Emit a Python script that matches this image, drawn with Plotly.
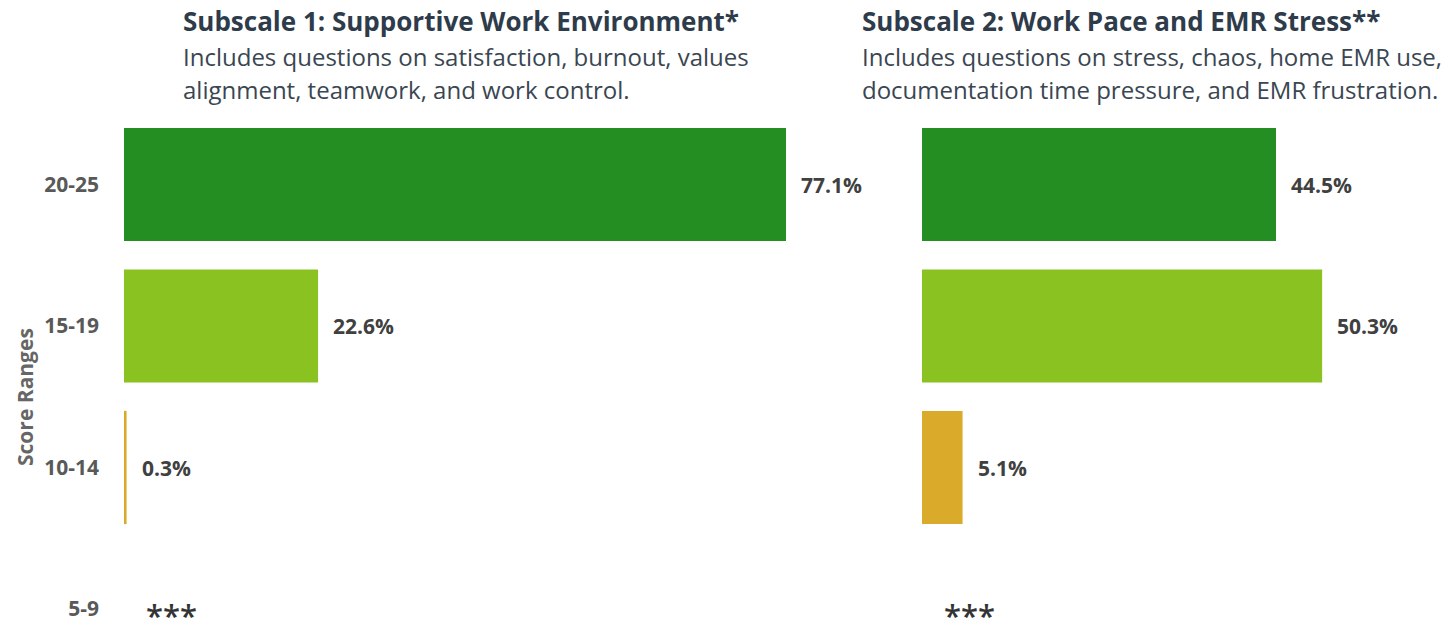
import plotly.graph_objects as go

categories = ["20-25", "15-19", "10-14", "5-9"]
subscale1_values = [77.1, 22.6, 0.3]
subscale2_values = [44.5, 50.3, 5.1]
bar_colors = ["#258E23", "#89C221", "#DAAA2A"]
missing_label = "***"

title1 = "Subscale 1: Supportive Work Environment*"
sub1_lines = ["Includes questions on satisfaction, burnout, values",
              "alignment, teamwork, and work control."]
title2 = "Subscale 2: Work Pace and EMR Stress**"
sub2_lines = ["Includes questions on stress, chaos, home EMR use,",
              "documentation time pressure, and EMR frustration."]
y_title = "Score Ranges"

FONT = "Open Sans"
OFF = 8  # page body margin
W, H = 1454, 627
L, R, T, B = 124 - OFF, 0, 114 - OFF, 0
pw = W - L - R
ph = H - T - B

def px_x(p):
    return (p - OFF - L) / pw

def px_y(p):
    return (H - B - (p - OFF)) / ph

fig = go.Figure()
fig.add_trace(go.Bar(
    x=subscale1_values, y=categories[:3], orientation="h",
    marker=dict(color=bar_colors, line=dict(width=0)), width=0.8,
    xaxis="x", yaxis="y", showlegend=False, hoverinfo="x+y"))
fig.add_trace(go.Bar(
    x=subscale2_values, y=categories[:3], orientation="h",
    marker=dict(color=bar_colors, line=dict(width=0)), width=0.8,
    xaxis="x2", yaxis="y2", showlegend=False, hoverinfo="x+y"))

annotations = []
for ax, vals in (("x", subscale1_values), ("x2", subscale2_values)):
    yref = "y" if ax == "x" else "y2"
    for c, v in zip(categories, vals):
        annotations.append(dict(
            x=v, y=c, xref=ax, yref=yref, text=f"<b>{v:.1f}%</b>",
            showarrow=False, xanchor="left", yanchor="middle", xshift=13,
            font=dict(family=FONT, size=21, color="#404040")))
    annotations.append(dict(
        x=0, y=categories[3], xref=ax, yref=yref, text=missing_label,
        showarrow=False, xanchor="left", yanchor="middle", xshift=20, yshift=-6,
        font=dict(family=FONT, size=31, weight=600, color="#333333")))

for x0, t, subs in ((181, title1, sub1_lines), (860, title2, sub2_lines)):
    annotations.append(dict(
        x=px_x(x0), y=px_y(21), xref="paper", yref="paper", text=f"<b>{t}</b>",
        showarrow=False, xanchor="left", yanchor="middle",
        font=dict(family=FONT, size=26, color="#2E3B4A")))
    for i, s in enumerate(subs):
        annotations.append(dict(
            x=px_x(x0), y=px_y(56 + 33 * i), xref="paper", yref="paper", text=s,
            showarrow=False, xanchor="left", yanchor="middle",
            font=dict(family=FONT, size=24, color="#3A4652")))

annotations.append(dict(
    x=px_x(25), y=px_y(397), xref="paper", yref="paper", text=f"<b>{y_title}</b>",
    textangle=-90, showarrow=False, xanchor="center", yanchor="middle",
    font=dict(family=FONT, size=21, color="#666666")))

left_end = 880
right_start = 922
scale1 = (786 - 124) / 77.1
scale2 = (1276 - 922) / 44.5
cat_step = 141.5
first_center = 184.5 - OFF

yaxis_common = dict(
    type="category", categoryorder="array", categoryarray=categories,
    range=[(H - first_center) / cat_step, (T - first_center) / cat_step],
    showgrid=False, zeroline=False, showline=False, ticks="", fixedrange=True)

fig.update_layout(
    width=W, height=H,
    margin=dict(l=L, r=R, t=T, b=B),
    paper_bgcolor="white", plot_bgcolor="white",
    xaxis=dict(domain=[0, px_x(left_end)], range=[0, (left_end - 124) / scale1],
               visible=False, fixedrange=True),
    xaxis2=dict(domain=[px_x(right_start), 1],
                range=[0, (W + OFF - right_start) / scale2],
                visible=False, fixedrange=True),
    yaxis=dict(**yaxis_common, anchor="x", showticklabels=True,
               ticklabelstandoff=24,
               tickvals=categories, ticktext=[f"<b>{c}</b>" for c in categories],
               tickfont=dict(family=FONT, size=21, color="#595959")),
    yaxis2=dict(**yaxis_common, anchor="x2", showticklabels=False),
    annotations=annotations,
    font=dict(family=FONT),
)

fig.write_html("out.html")
